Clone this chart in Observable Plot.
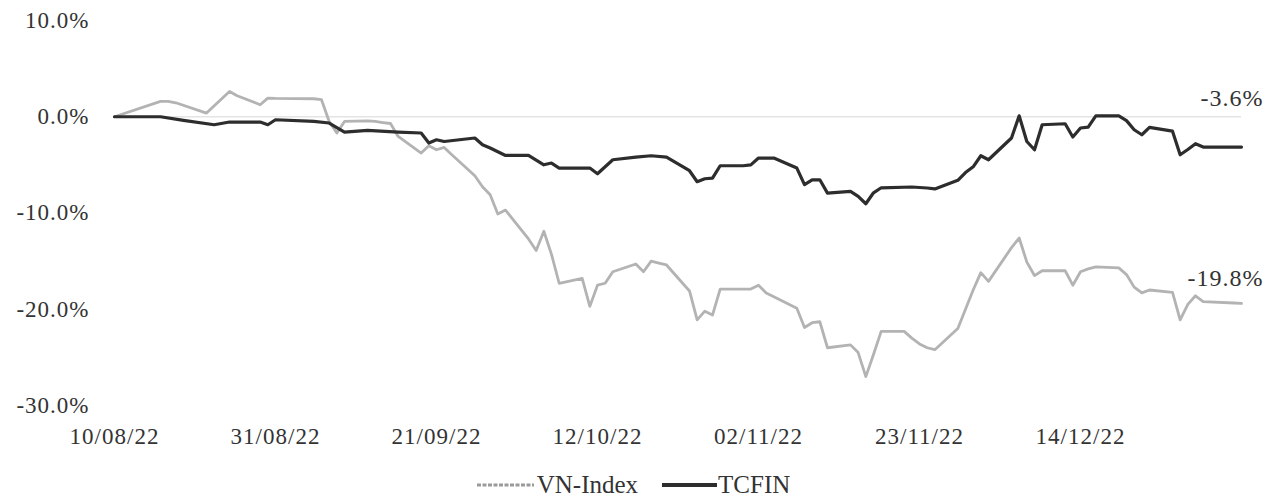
<!DOCTYPE html>
<html>
<head>
<meta charset="utf-8">
<script src="https://cdn.jsdelivr.net/npm/d3@7"></script>
<script src="https://cdn.jsdelivr.net/npm/@observablehq/plot@0.6"></script>
<style>
  html, body { margin: 0; padding: 0; background: #fff; overflow: hidden; }
  #chart svg text { font-family: "Liberation Serif", "Times New Roman", serif; }
  .legend { display: flex; justify-content: center; align-items: center; height: 26px;
            font-family: "Liberation Serif", "Times New Roman", serif; font-size: 25px; color: #333; }
  .legend .item { display: flex; align-items: center; }
  .legend svg { display: block; }
</style>
</head>
<body>
<div id="chart"></div>
<script>
// ---- data ----
const seriesNames = ["VN-Index", "TCFIN"];
const endLabels = ["-19.8%", "-3.6%"];

const vnDates = ["2022-08-10","2022-08-16","2022-08-17","2022-08-18","2022-08-22","2022-08-25","2022-08-26","2022-08-29","2022-08-30","2022-08-31",
  "2022-09-05","2022-09-06","2022-09-07","2022-09-08","2022-09-09","2022-09-12","2022-09-13","2022-09-14","2022-09-15","2022-09-16",
  "2022-09-19","2022-09-20","2022-09-21","2022-09-22","2022-09-23","2022-09-26","2022-09-27","2022-09-28","2022-09-29","2022-09-30",
  "2022-10-03","2022-10-04","2022-10-05","2022-10-06","2022-10-07","2022-10-10","2022-10-11","2022-10-12","2022-10-13","2022-10-14",
  "2022-10-17","2022-10-18","2022-10-19","2022-10-20","2022-10-21","2022-10-24","2022-10-25","2022-10-26","2022-10-27","2022-10-28",
  "2022-10-31","2022-11-01","2022-11-02","2022-11-03","2022-11-04","2022-11-07","2022-11-08","2022-11-09","2022-11-10","2022-11-11",
  "2022-11-14","2022-11-15","2022-11-16","2022-11-17","2022-11-18","2022-11-21","2022-11-22","2022-11-23","2022-11-24","2022-11-25",
  "2022-11-28","2022-11-29","2022-11-30","2022-12-01","2022-12-02","2022-12-05","2022-12-06","2022-12-07","2022-12-08","2022-12-09",
  "2022-12-12","2022-12-13","2022-12-14","2022-12-15","2022-12-16","2022-12-19","2022-12-20","2022-12-21","2022-12-22","2022-12-23",
  "2022-12-26","2022-12-27","2022-12-28","2022-12-29","2022-12-30","2023-01-03","2023-01-04"];
const vnValues = [0.0,1.59,1.6,1.45,0.38,2.63,2.18,1.25,1.94,1.9,
  1.87,1.77,-0.49,-1.69,-0.49,-0.42,-0.49,-0.6,-0.7,-2.05,
  -3.77,-3.01,-3.43,-3.19,-3.95,-6.13,-7.27,-8.1,-10.1,-9.7,
  -12.7,-13.9,-11.9,-14.3,-17.3,-16.8,-19.7,-17.5,-17.3,-16.1,
  -15.3,-16.1,-15.0,-15.2,-15.4,-18.1,-21.1,-20.2,-20.6,-17.9,
  -17.9,-17.9,-17.5,-18.3,-18.7,-19.9,-21.9,-21.4,-21.3,-24.0,
  -23.7,-24.5,-27.0,-24.7,-22.3,-22.3,-23.0,-23.6,-24.0,-24.2,
  -22.0,-20.0,-18.0,-16.2,-17.1,-13.6,-12.6,-15.1,-16.5,-16.0,
  -16.0,-17.5,-16.1,-15.8,-15.6,-15.7,-16.4,-17.7,-18.3,-18.0,
  -18.25,-21.1,-19.5,-18.6,-19.2,-19.35,-19.4];

const tcDates = ["2022-08-10","2022-08-16","2022-08-19","2022-08-23","2022-08-25","2022-08-29","2022-08-30","2022-08-31",
  "2022-09-05","2022-09-07","2022-09-09","2022-09-12","2022-09-16","2022-09-19","2022-09-20","2022-09-21","2022-09-22",
  "2022-09-26","2022-09-27","2022-09-28","2022-09-30","2022-10-03","2022-10-05","2022-10-06","2022-10-07","2022-10-11",
  "2022-10-12","2022-10-14","2022-10-17","2022-10-19","2022-10-21","2022-10-24","2022-10-25","2022-10-26","2022-10-27",
  "2022-10-28","2022-10-31","2022-11-01","2022-11-02","2022-11-04","2022-11-07","2022-11-08","2022-11-09","2022-11-10",
  "2022-11-11","2022-11-14","2022-11-15","2022-11-16","2022-11-17","2022-11-18","2022-11-22","2022-11-24","2022-11-25",
  "2022-11-28","2022-11-29","2022-11-30","2022-12-01","2022-12-02","2022-12-05","2022-12-06","2022-12-07","2022-12-08",
  "2022-12-09","2022-12-12","2022-12-13","2022-12-14","2022-12-15","2022-12-16","2022-12-19","2022-12-20","2022-12-21",
  "2022-12-22","2022-12-23","2022-12-26","2022-12-27","2022-12-28","2022-12-29","2022-12-30","2023-01-03","2023-01-04"];
const tcValues = [0.0,0.0,-0.38,-0.83,-0.55,-0.55,-0.83,-0.31,
  -0.49,-0.65,-1.59,-1.42,-1.59,-1.69,-2.73,-2.39,-2.57,
  -2.21,-2.91,-3.25,-4.02,-4.02,-4.99,-4.81,-5.33,-5.33,
  -5.92,-4.47,-4.19,-4.05,-4.19,-5.61,-6.75,-6.44,-6.37,
  -5.09,-5.09,-5.0,-4.29,-4.29,-5.33,-7.06,-6.55,-6.55,
  -7.93,-7.76,-8.28,-9.04,-7.9,-7.38,-7.3,-7.4,-7.5,
  -6.6,-5.8,-5.2,-4.05,-4.47,-2.21,0.1,-2.57,-3.43,
  -0.83,-0.73,-2.1,-1.17,-1.07,0.1,0.1,-0.4,-1.35,
  -1.87,-1.1,-1.5,-3.95,-3.4,-2.8,-3.15,-3.15,-3.15];

const xTickDates = ["2022-08-10","2022-08-31","2022-09-21","2022-10-12","2022-11-02","2022-11-23","2022-12-14"];
const xTickLabels = ["10/08/22","31/08/22","21/09/22","12/10/22","02/11/22","23/11/22","14/12/22"];
const yTicks = [10, 0, -10, -20, -30];
const yTickLabels = ["10.0%", "0.0%", "-10.0%", "-20.0%", "-30.0%"];

// ---- build tables ----
const parse = d3.utcParse("%Y-%m-%d");
const vn = vnDates.map((d, i) => ({date: parse(d), value: vnValues[i]}));
const tc = tcDates.map((d, i) => ({date: parse(d), value: tcValues[i]}));
const xTicks = xTickDates.map(parse);
const xLabelOf = new Map(xTicks.map((d, i) => [+d, xTickLabels[i]]));
const yLabelOf = new Map(yTicks.map((v, i) => [v, yTickLabels[i]]));

const colors = {"VN-Index": "#b3b3b3", "TCFIN": "#2d2d2d"};

const chart = Plot.plot({
  width: 1267,
  height: 472,
  marginLeft: 114,
  marginRight: 26,
  marginTop: 20,
  marginBottom: 67,
  style: {fontFamily: "'Liberation Serif', 'Times New Roman', serif", fontSize: "23px", letterSpacing: "1px", color: "#333", background: "#fff", overflow: "visible"},
  x: {type: "utc", domain: [vn[0].date, vn[vn.length - 1].date], ticks: xTicks,
      tickFormat: d => xLabelOf.get(+d), tickSize: 0, tickPadding: 22, label: null},
  y: {domain: [-30, 10], ticks: yTicks, tickFormat: v => yLabelOf.get(v), tickSize: 0, tickPadding: 25, label: null},
  marks: [
    Plot.ruleY([0], {stroke: "#e4e4e4", strokeWidth: 1.5}),
    Plot.line(vn, {x: "date", y: "value", stroke: colors["VN-Index"], strokeWidth: 2.8, strokeLinejoin: "round"}),
    Plot.line(tc, {x: "date", y: "value", stroke: colors["TCFIN"], strokeWidth: 3.2, strokeLinejoin: "round"}),
    Plot.text([vn[vn.length - 1]], {x: "date", y: "value", text: () => endLabels[0], textAnchor: "end",
      dx: 22, dy: -25, fontSize: 24, fill: "#333"}),
    Plot.text([tc[tc.length - 1]], {x: "date", y: "value", text: () => endLabels[1], textAnchor: "end",
      dx: 22, dy: -49, fontSize: 24, fill: "#333"})
  ]
});
document.getElementById("chart").appendChild(chart);

// ---- legend below the chart ----
const legend = document.createElement("div");
legend.className = "legend";
const swatch = {
  "VN-Index": `<svg width="57" height="8"><line x1="0" y1="4" x2="57" y2="4" stroke="#9a9a9a" stroke-width="3" stroke-dasharray="4 1.5"/></svg>`,
  "TCFIN": `<svg width="55" height="8"><line x1="0" y1="4" x2="55" y2="4" stroke="#2d2d2d" stroke-width="4"/></svg>`
};
legend.innerHTML = seriesNames.map((n, i) =>
  `<span class="item" style="margin-left:${i ? 24 : 0}px">${swatch[n]}<span style="margin-left:${i ? 1 : 3}px">${n}</span></span>`
).join("");
document.body.appendChild(legend);
</script>
</body>
</html>
